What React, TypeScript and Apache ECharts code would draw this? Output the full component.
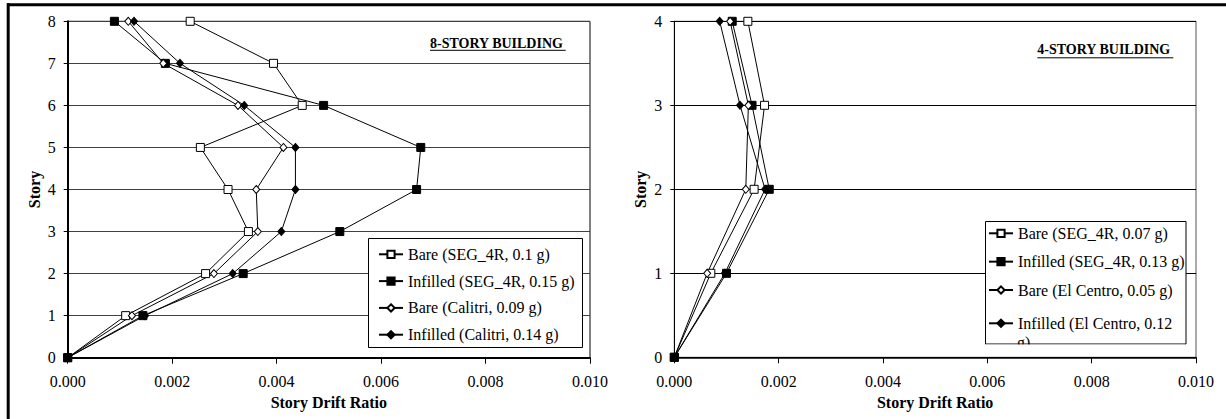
import React, { useEffect, useRef } from "react";
import * as echarts from "echarts";

// ---- Data ----
const storiesA = [0, 1, 2, 3, 4, 5, 6, 7, 8];
const storiesB = [0, 1, 2, 3, 4];
const xTicks = [0, 0.002, 0.004, 0.006, 0.008, 0.01];

const namesA = [
  "Bare (SEG_4R, 0.1 g)",
  "Infilled (SEG_4R, 0.15 g)",
  "Bare (Calitri, 0.09 g)",
  "Infilled (Calitri, 0.14 g)",
];
const namesB = [
  "Bare (SEG_4R, 0.07 g)",
  "Infilled (SEG_4R, 0.13 g)",
  "Bare (El Centro, 0.05 g)",
  "Infilled (El Centro, 0.12 g)",
];

// 8-story building drift ratios, story 0..8
const bareSegA = [0, 0.00111, 0.00264, 0.00346, 0.00307, 0.00254, 0.00449, 0.00394, 0.002345];
const infSegA = [0, 0.00144, 0.00336, 0.00521, 0.00668, 0.00676, 0.0049, 0.00187, 0.000894];
const bareCalA = [0, 0.00123, 0.0028, 0.00364, 0.00361, 0.00413, 0.00326, 0.00183, 0.00116];
const infCalA = [0, 0.00148, 0.00316, 0.00409, 0.00436, 0.00436, 0.00338, 0.00215, 0.00127];

// 4-story building drift ratios, story 0..4
const bareSegB = [0, 0.0007, 0.00153, 0.00173, 0.00141];
const infSegB = [0, 0.001, 0.00182, 0.00149, 0.00111];
const bareElB = [0, 0.00063, 0.00137, 0.00142, 0.00107];
const infElB = [0, 0.00097, 0.00174, 0.00126, 0.00087];

const FONT = "Liberation Serif";

const markers = [
  { symbol: "rect", size: 8, fill: "#fff" },
  { symbol: "rect", size: 8, fill: "#000" },
  { symbol: "diamond", size: [7, 8], fill: "#fff" },
  { symbol: "diamond", size: [7, 8], fill: "#000" },
];

function mkSeries(name: string, vals: number[], stories: number[], idx: number, k: number) {
  const m = markers[k];
  return {
    type: "line",
    name,
    xAxisIndex: idx,
    yAxisIndex: idx,
    data: stories.map((s, i) => [vals[i], s]),
    symbol: m.symbol,
    symbolSize: m.size,
    showSymbol: true,
    clip: false,
    lineStyle: { color: "#000", width: 1 },
    itemStyle: { color: m.fill, borderColor: "#000", borderWidth: 1 },
    emphasis: { disabled: true },
    z: 2,
  };
}

export default function App() {
  const ref = useRef<HTMLDivElement>(null);
  useEffect(() => {
    if (!ref.current) return;
    const chart = echarts.init(ref.current, null, { renderer: "svg" });
    const txt = { fontFamily: FONT, fontSize: 16, color: "#000" };
    const xAxisBase = (gi: number, lw: number) => ({
      type: "value",
      gridIndex: gi,
      min: xTicks[0],
      max: xTicks[xTicks.length - 1],
      interval: 0.002,
      name: "Story Drift Ratio",
      nameLocation: "middle",
      nameGap: gi === 0 ? 33 : 35,
      nameTextStyle: { ...txt, fontWeight: "bold" },
      axisLine: { show: true, lineStyle: { color: "#000", width: lw } },
      axisTick: { show: true, inside: false, length: 6, lineStyle: { color: "#000", width: 1 } },
      axisLabel: { ...txt, margin: 16, formatter: (v: number) => v.toFixed(3) },
      splitLine: { show: false },
    });
    const yAxisBase = (gi: number, max: number, lw: number, gridColor: string, gap: number) => ({
      type: "value",
      gridIndex: gi,
      min: 0,
      max,
      interval: 1,
      name: "Story",
      nameLocation: "middle",
      nameRotate: 90,
      nameGap: gap,
      nameTextStyle: { ...txt, fontWeight: "bold" },
      axisLine: { show: true, lineStyle: { color: "#000", width: lw } },
      axisTick: { show: true, inside: false, length: 4, lineStyle: { color: "#000", width: 1 } },
      axisLabel: { ...txt, margin: 12 },
      splitLine: { show: true, lineStyle: { color: gridColor, width: 1 } },
    });
    const legendBase = {
      orient: "vertical",
      selectedMode: false,
      padding: 0,
      itemWidth: 24,
      itemHeight: 9,
      textStyle: { ...txt, lineHeight: 16 },
      z: 4,
    };
    const titleStyle = (text: string) => ({
      text,
      fontFamily: FONT,
      fontSize: 14,
      fontWeight: "bold",
      fill: "#000",
      verticalAlign: "middle",
      align: "left",
    });
    const option: any = {
      animation: false,
      backgroundColor: "#fff",
      grid: [
        { left: 67.7, top: 21.3, width: 522.3, height: 336.4, show: true, borderColor: "#000", borderWidth: 1, backgroundColor: "transparent" },
        { left: 674.3, top: 21.3, width: 521.7, height: 336, show: true, borderColor: "#555", borderWidth: 1, backgroundColor: "transparent" },
      ],
      xAxis: [xAxisBase(0, 2), xAxisBase(1, 1.5)],
      yAxis: [yAxisBase(0, 8, 2, "#404040", 25), yAxisBase(1, 4, 1, "#000", 26)],
      legend: [
        { ...legendBase, data: namesA, left: 378, top: 246.3, itemGap: 10.8 },
        { ...legendBase, data: namesB.slice(0, 3), left: 988, top: 225.3, itemGap: 12.35 },
        {
          ...legendBase,
          data: [namesB[3]],
          left: 988,
          top: 315.3,
          formatter: () => "Infilled (El Centro, 0.12",
        },
      ],
      series: [
        mkSeries(namesA[0], bareSegA, storiesA, 0, 0),
        mkSeries(namesA[1], infSegA, storiesA, 0, 1),
        mkSeries(namesA[2], bareCalA, storiesA, 0, 2),
        mkSeries(namesA[3], infCalA, storiesA, 0, 3),
        mkSeries(namesB[0], bareSegB, storiesB, 1, 0),
        mkSeries(namesB[1], infSegB, storiesB, 1, 1),
        mkSeries(namesB[2], bareElB, storiesB, 1, 2),
        mkSeries(namesB[3], infElB, storiesB, 1, 3),
      ],
      graphic: [
        { type: "line", z: 10, shape: { x1: 7, y1: 4.8, x2: 1226, y2: 4.8 }, style: { stroke: "#000", lineWidth: 3 } },
        { type: "line", z: 10, shape: { x1: 8.2, y1: 3.3, x2: 8.2, y2: 419 }, style: { stroke: "#000", lineWidth: 3 } },
        { type: "rect", z: 3, shape: { x: 368.5, y: 238.5, width: 214, height: 109 }, style: { fill: "#fff", stroke: "#000", lineWidth: 1 } },
        { type: "rect", z: 3, shape: { x: 985.5, y: 221.5, width: 200.5, height: 122.5 }, style: { fill: "#fff", stroke: "#000", lineWidth: 1 } },
        { type: "text", z: 5, x: 1017, y: 342, style: { text: "g)", fontFamily: FONT, fontSize: 16, fill: "#000", verticalAlign: "middle", align: "left" } },
        { type: "rect", z: 6, shape: { x: 986, y: 344.6, width: 199.5, height: 8 }, style: { fill: "#fff" } },
        { type: "text", z: 5, x: 430, y: 43.8, style: titleStyle("8-STORY BUILDING") },
        { type: "line", z: 5, shape: { x1: 430, y1: 50.3, x2: 565.7, y2: 50.3 }, style: { stroke: "#000", lineWidth: 1 } },
        { type: "text", z: 5, x: 1037.3, y: 49.7, style: titleStyle("4-STORY BUILDING") },
        { type: "line", z: 5, shape: { x1: 1037.3, y1: 57.8, x2: 1173.3, y2: 57.8 }, style: { stroke: "#000", lineWidth: 1 } },
      ],
    };
    chart.setOption(option);
    return () => chart.dispose();
  }, []);
  return (
    <div
      ref={ref}
      style={{ position: "absolute", left: 0, top: 0, width: 1226, height: 419, background: "#fff" }}
    />
  );
}
